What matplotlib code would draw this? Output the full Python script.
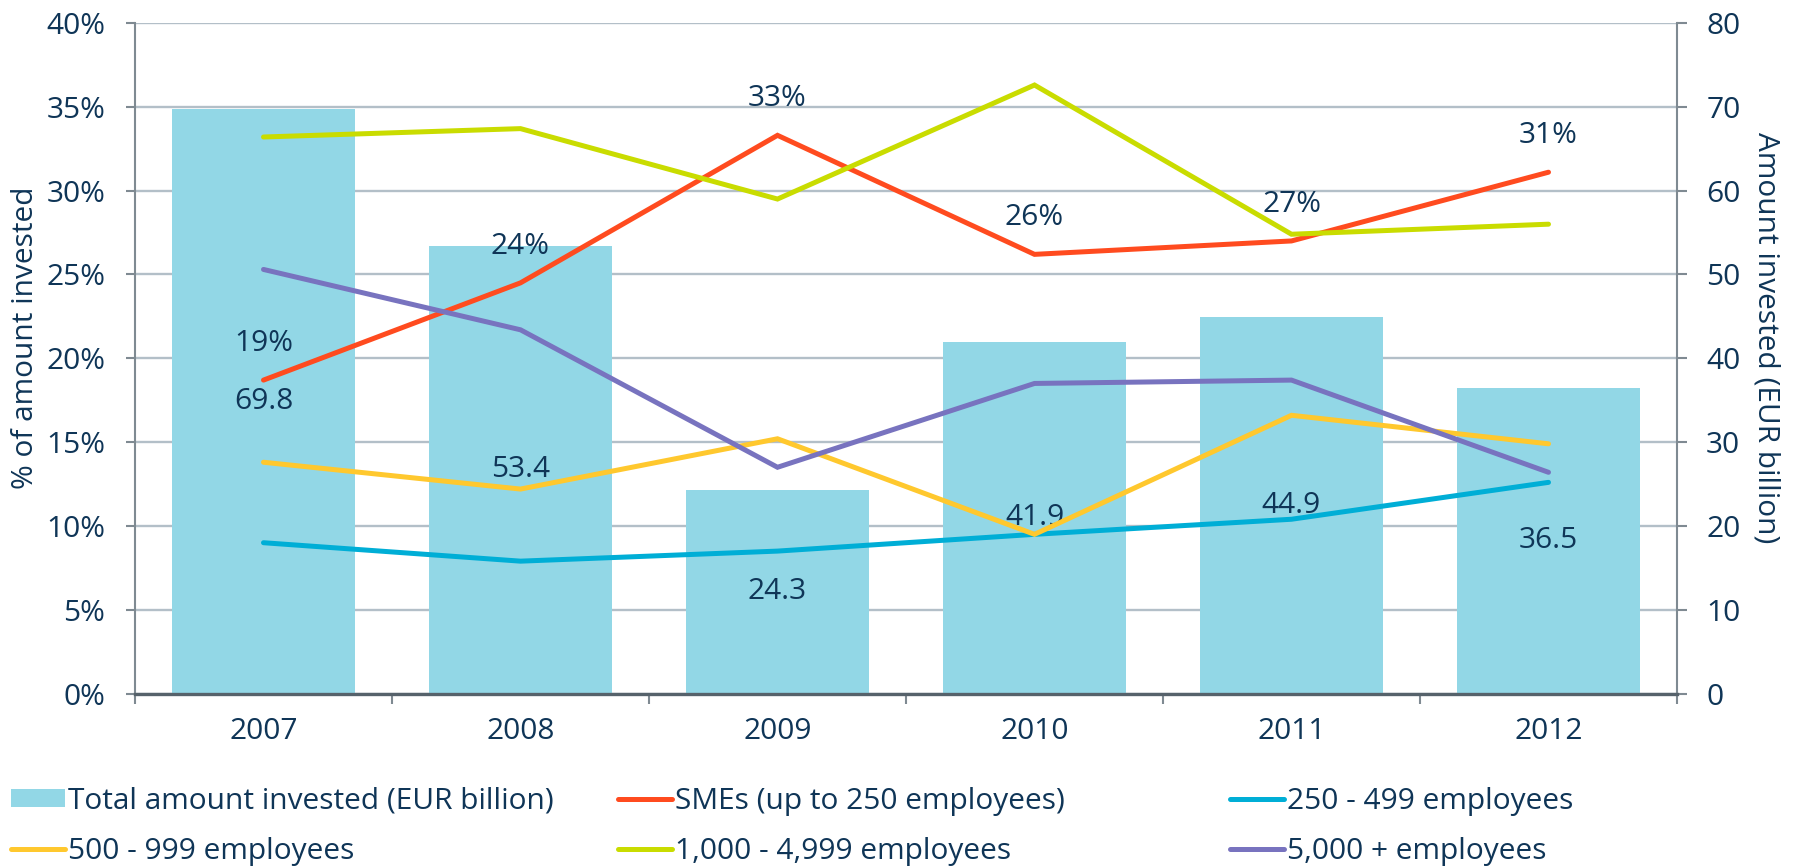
import numpy as np
import matplotlib.pyplot as plt
from matplotlib.ticker import FuncFormatter, FixedLocator
from matplotlib.patches import Patch
from matplotlib.lines import Line2D

plt.rcParams['font.family'] = ['Open Sans', 'DejaVu Sans']

# data
years = ['2007', '2008', '2009', '2010', '2011', '2012']
total_invested = [69.8, 53.4, 24.3, 41.9, 44.9, 36.5]          # EUR billion (right axis)
sme = [18.7, 24.5, 33.3, 26.2, 27.0, 31.1]                     # % of amount invested
emp_250_499 = [9.0, 7.9, 8.5, 9.5, 10.4, 12.6]
emp_500_999 = [13.8, 12.2, 15.2, 9.5, 16.6, 14.9]
emp_1000_4999 = [33.2, 33.7, 29.5, 36.3, 27.4, 28.0]
emp_5000_plus = [25.3, 21.7, 13.5, 18.5, 18.7, 13.2]
sme_labels = ['19%', '24%', '33%', '26%', '27%', '31%']

TXT = '#0F3557'
GRID = '#B3BFC8'
SPINE = '#7F8A92'
FS = 21.5

series = [
    ('SMEs (up to 250 employees)', sme, '#FF4B1F'),
    ('250 - 499 employees', emp_250_499, '#00AED6'),
    ('500 - 999 employees', emp_500_999, '#FFC82E'),
    ('1,000 - 4,999 employees', emp_1000_4999, '#C9DC00'),
    ('5,000 + employees', emp_5000_plus, '#7873BF'),
]

fig = plt.figure(figsize=(17.94, 8.67), dpi=100)
rect = [135 / 1794, 1 - 693.6 / 867, 1542 / 1794, (693.6 - 23) / 867]
ax = fig.add_axes(rect)
ax2 = ax.twinx()
ax.set_zorder(2)
ax.patch.set_visible(False)
ax2.set_zorder(1)

x = np.arange(len(years))

# bars on the right axis
bar_color = '#92D7E6'
ax2.bar(x, total_invested, width=0.712, color=bar_color, zorder=2)
ax2.set_ylim(0, 80)
ax2.set_yticks(np.arange(0, 81, 10))
ax2.grid(axis='y', color=GRID, lw=1.7, zorder=0)
ax2.set_axisbelow(True)
for xi, v in zip(x, total_invested):
    ax2.text(xi, v / 2, f'{v:.1f}', ha='center', va='center', color=TXT, fontsize=FS, zorder=3)

# lines on the left axis
for name, vals, col in series:
    ax.plot(x, np.array(vals) / 100, color=col, lw=3.6, solid_capstyle='round',
            solid_joinstyle='miter', zorder=3)
for xi, v, lab in zip(x, sme, sme_labels):
    ax.annotate(lab, (xi, v / 100), xytext=(0, 26.5), textcoords='offset points',
                ha='center', va='center', color=TXT, fontsize=FS)

ax.set_ylim(0, 0.40)
ax.set_yticks(np.arange(0, 0.401, 0.05))
ax.yaxis.set_major_formatter(FuncFormatter(lambda v, p: f'{v * 100:.0f}%'))
ax.set_xlim(-0.5, len(years) - 0.5)
ax.set_xticks(x)
ax.set_xticklabels(years)
ax.xaxis.set_minor_locator(FixedLocator(np.arange(-0.5, len(years), 1.0)))

ax.tick_params(axis='x', which='major', length=0, pad=17, labelsize=FS, labelcolor=TXT)
ax.tick_params(axis='x', which='minor', length=7, width=1.5, color=SPINE, direction='out')
ax.tick_params(axis='y', length=6.5, width=1.5, color=SPINE, pad=15, labelsize=FS, labelcolor=TXT)
ax2.tick_params(axis='y', length=7, width=1.5, color=SPINE, pad=14, labelsize=FS, labelcolor=TXT)

for s in ['top', 'right']:
    ax.spines[s].set_visible(False)
for s in ['top', 'left', 'bottom']:
    ax2.spines[s].set_visible(False)
ax.spines['left'].set_color(SPINE)
ax.spines['left'].set_linewidth(1.5)
ax.spines['bottom'].set_color('#56626B')
ax.spines['bottom'].set_linewidth(2.4)
ax2.spines['right'].set_color(SPINE)
ax2.spines['right'].set_linewidth(1.5)

ax.set_ylabel('% of amount invested', fontsize=FS, color=TXT, va='center')
ax.yaxis.set_label_coords((25 - 135) / 1542, 0.53)
ax2.set_ylabel('Amount invested (EUR billion)', fontsize=FS, color=TXT, rotation=270,
               va='center')
ax2.yaxis.set_label_coords((1766 - 135) / 1542, 0.53)

# legend: three columns placed like the original
h_total = Patch(facecolor=bar_color, edgecolor='none')
lines = {name: Line2D([], [], color=col, lw=3.6, solid_capstyle='round') for name, _, col in series}
columns = [
    ([h_total, lines['500 - 999 employees']],
     ['Total amount invested (EUR billion)', '500 - 999 employees'], 11),
    ([lines['SMEs (up to 250 employees)'], lines['1,000 - 4,999 employees']],
     ['SMEs (up to 250 employees)', '1,000 - 4,999 employees'], 618),
    ([lines['250 - 499 employees'], lines['5,000 + employees']],
     ['250 - 499 employees', '5,000 + employees'], 1230),
]
for handles, labels, xpx in columns:
    leg = fig.legend(handles, labels, loc='center left',
                     bbox_to_anchor=(xpx / 1794, 1 - 826.5 / 867),
                     frameon=False, fontsize=FS, borderpad=0, borderaxespad=0,
                     handlelength=1.8, handleheight=0.57, handletextpad=0.1,
                     labelspacing=0.72)
    for t in leg.get_texts():
        t.set_color(TXT)

fig.savefig('out.png', dpi=100)
